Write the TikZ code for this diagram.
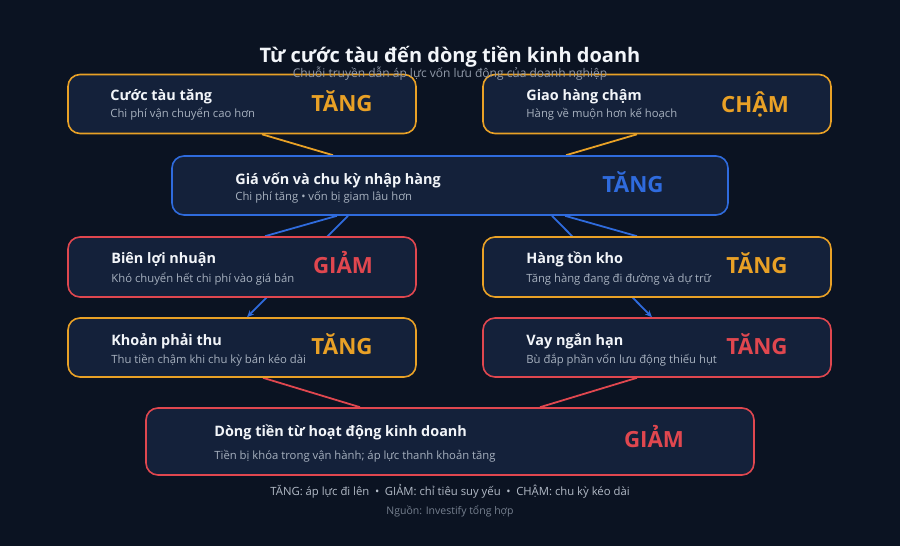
\documentclass[tikz,border=0pt]{standalone}
\usepackage{fontspec}
\IfFontExistsTF{Noto Sans Bold}{%
  \setmainfont{Noto Sans}[BoldFont={Noto Sans Bold}]}{%
  \IfFontExistsTF{Open Sans Bold}{%
    \setmainfont{Open Sans}[BoldFont={Open Sans Bold}]}{%
    \setmainfont{Noto Sans}[BoldFeatures={FakeBold=2}]}}
\usetikzlibrary{positioning, arrows.meta}

\definecolor{bgnavy}{HTML}{0B1322}
\definecolor{boxfill}{HTML}{14213A}
\definecolor{amber}{HTML}{E9A126}
\definecolor{royal}{HTML}{2F6BDD}
\definecolor{coral}{HTML}{E0474F}
\definecolor{headwhite}{HTML}{F2F5F9}
\definecolor{subgrey}{HTML}{A7B1BF}
\definecolor{notegrey}{HTML}{B3BBC7}
\definecolor{srcgrey}{HTML}{76808F}

\pgfdeclarelayer{back}
\pgfdeclarelayer{links}
\pgfsetlayers{back,links,main}

\begin{document}
\begin{tikzpicture}[x=1pt, y=-1pt,
			card/.style={
				rectangle,
				rounded corners=12pt,
				line width=1.6pt,
				fill=boxfill,
				minimum width=348pt,
				minimum height=59pt,
				inner sep=0pt
			},
			head/.style={
				anchor=base west,
				inner sep=0pt,
				text=headwhite,
				font=\bfseries\fontsize{14.4}{17}\selectfont
			},
			sub/.style={
				anchor=base west,
				inner sep=0pt,
				text=subgrey,
				font=\fontsize{11.3}{13}\selectfont
			},
			badge/.style={
				anchor=base,
				inner sep=0pt,
				font=\bfseries\fontsize{22.3}{26}\selectfont
			},
			link/.style={line width=1.8pt}
			]
			% Fondo
			\useasboundingbox (0,0) rectangle (900,546);
			\begin{pgfonlayer}{back}
				\fill[bgnavy] (0,0) rectangle (900,546);
			\end{pgfonlayer}
			
			% Fila 1 - causas
			\node[card, draw=amber] (freight) at (242,104) {};
			\node[card, draw=amber] (delay) at (657,104) {};
			
			% Fila 2 - nodo central
			\node[card, draw=royal, minimum width=556pt] (cogs) at (450,185.5) {};
			
			% Filas 3 y 4 - efectos
			\node[card, draw=coral, minimum height=60pt] (margin) at (242,267) {};
			\node[card, draw=amber, minimum height=60pt] (stock) at (657,267) {};
			\node[card, draw=amber] (receiv) at (242,347.5) {};
			\node[card, draw=coral] (loan) at (657,347.5) {};
			
			% Fila 5 - resultado
			\node[card, draw=coral, minimum width=608pt, minimum height=67pt] (cashflow) at (450,441.5) {};
			
			% Textos de las tarjetas
			\node[head] (freighthead) at ([xshift=43pt, yshift=-27pt]freight.north west) {Cước tàu tăng};
			\node[sub] (freightsub) at ([yshift=-17pt]freighthead.base west) {Chi phí vận chuyển cao hơn};
			\node[badge, text=amber] (freightbadge) at ([xshift=100pt, yshift=-37.5pt]freight.north) {TĂNG};
			
			\node[head] (delayhead) at ([xshift=44pt, yshift=-27pt]delay.north west) {Giao hàng chậm};
			\node[sub] (delaysub) at ([yshift=-17pt]delayhead.base west) {Hàng về muộn hơn kế hoạch};
			\node[badge, text=amber] (delaybadge) at ([xshift=98pt, yshift=-38.5pt]delay.north) {CHẬM};
			
			\node[head] (cogshead) at ([xshift=64pt, yshift=-29pt]cogs.north west) {Giá vốn và chu kỳ nhập hàng};
			\node[sub] (cogssub) at ([yshift=-16pt]cogshead.base west) {Chi phí tăng • vốn bị giam lâu hơn};
			\node[badge, text=royal] (cogsbadge) at ([xshift=183pt, yshift=-37pt]cogs.north) {TĂNG};
			
			\node[head] (marginhead) at ([xshift=44pt, yshift=-27pt]margin.north west) {Biên lợi nhuận};
			\node[sub] (marginsub) at ([yshift=-19pt]marginhead.base west) {Khó chuyển hết chi phí vào giá bán};
			\node[badge, text=coral] (marginbadge) at ([xshift=101pt, yshift=-37.5pt]margin.north) {GIẢM};
			
			\node[head] (stockhead) at ([xshift=44pt, yshift=-27pt]stock.north west) {Hàng tồn kho};
			\node[sub] (stocksub) at ([yshift=-19pt]stockhead.base west) {Tăng hàng đang đi đường và dự trữ};
			\node[badge, text=amber] (stockbadge) at ([xshift=100pt, yshift=-37.5pt]stock.north) {TĂNG};
			
			\node[head] (receivhead) at ([xshift=44pt, yshift=-28pt]receiv.north west) {Khoản phải thu};
			\node[sub] (receivsub) at ([yshift=-18pt]receivhead.base west) {Thu tiền chậm khi chu kỳ bán kéo dài};
			\node[badge, text=amber] (receivbadge) at ([xshift=100pt, yshift=-37.5pt]receiv.north) {TĂNG};
			
			\node[head] (loanhead) at ([xshift=44pt, yshift=-28pt]loan.north west) {Vay ngắn hạn};
			\node[sub] (loansub) at ([yshift=-18pt]loanhead.base west) {Bù đắp phần vốn lưu động thiếu hụt};
			\node[badge, text=coral] (loanbadge) at ([xshift=100pt, yshift=-37.5pt]loan.north) {TĂNG};
			
			\node[head] (cashhead) at ([xshift=69pt, yshift=-29pt]cashflow.north west) {Dòng tiền từ hoạt động kinh doanh};
			\node[sub] (cashsub) at ([yshift=-23pt]cashhead.base west) {Tiền bị khóa trong vận hành; áp lực thanh khoản tăng};
			\node[badge, text=coral] (cashbadge) at ([xshift=204pt, yshift=-40pt]cashflow.north) {GIẢM};
			
			% Título y notas
			\node[anchor=base, text=headwhite, font=\bfseries\fontsize{20}{24}\selectfont] (title) at (450,62) {Từ cước tàu đến dòng tiền kinh doanh};
			\node[anchor=base, text=subgrey!85!bgnavy, font=\fontsize{12}{14}\selectfont] (subtitle) at (450,77) {Chuỗi truyền dẫn áp lực vốn lưu động của doanh nghiệp};
			\node[anchor=base, text=notegrey, font=\fontsize{11.3}{13}\selectfont] (legend) at (450,495) {TĂNG: áp lực đi lên\enspace•\enspace GIẢM: chỉ tiêu suy yếu\enspace•\enspace CHẬM: chu kỳ kéo dài};
			\node[anchor=base, text=srcgrey, font=\fontsize{10.5}{13}\selectfont] (source) at (450,514) {Nguồn: Investify tổng hợp};
			
			% Conexiones (detrás de las tarjetas)
			\begin{pgfonlayer}{links}
				\draw[link, amber] ([xshift=20pt]freight.south) -- ([xshift=-117pt]cogs.north);
				\draw[link, amber] ([xshift=-20pt]delay.south) -- ([xshift=116pt]cogs.north);
				\draw[link, royal] ([xshift=-113pt]cogs.south) -- ([xshift=23pt]margin.north);
				\draw[link, royal, -{Stealth[length=7pt, width=6pt]}] ([xshift=-102pt]cogs.south) -- ([xshift=5pt]receiv.north);
				\draw[link, royal] ([xshift=115pt]cogs.south) -- ([xshift=-20pt]stock.north);
				\draw[link, royal, -{Stealth[length=7pt, width=6pt]}] ([xshift=102pt]cogs.south) -- ([xshift=-5pt]loan.north);
				\draw[link, coral] ([xshift=21pt]receiv.south) -- ([xshift=-90pt]cashflow.north);
				\draw[link, coral] ([xshift=-20pt]loan.south) -- ([xshift=90pt]cashflow.north);
			\end{pgfonlayer}
			
		\end{tikzpicture}
\end{document}
